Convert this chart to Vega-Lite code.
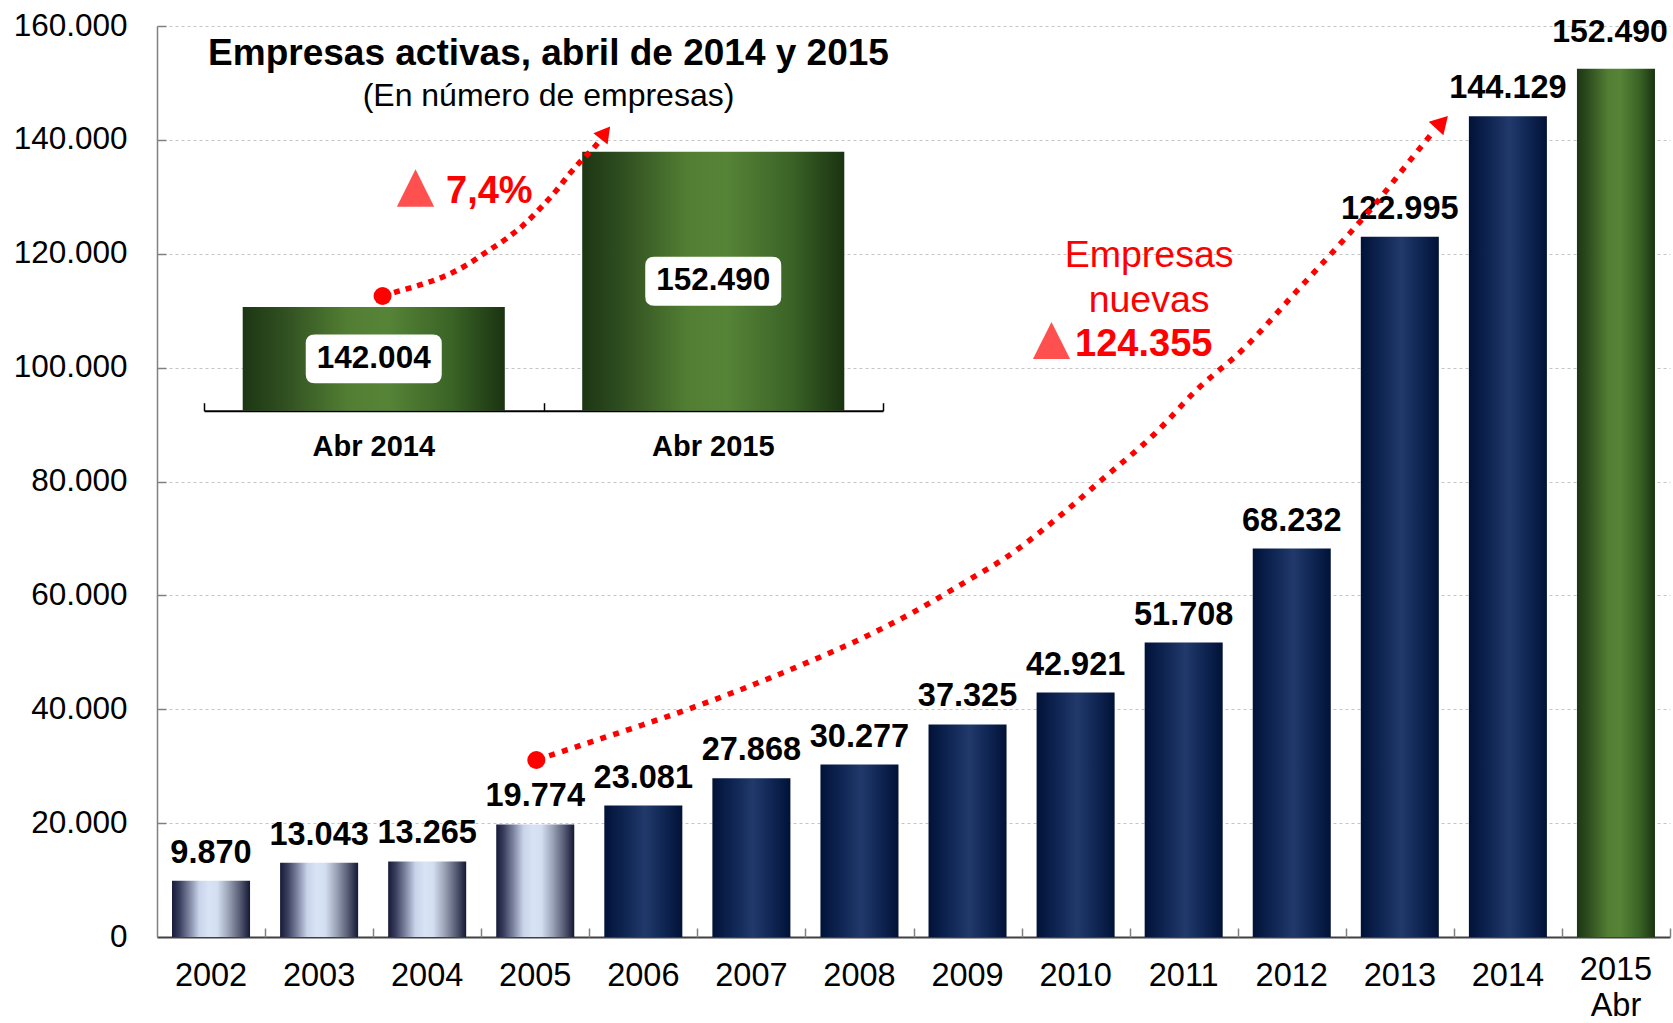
{
  "$schema": "https://vega.github.io/schema/vega-lite/v6.json",
  "width": 1513,
  "height": 911,
  "autosize": "none",
  "padding": {"left": 157, "top": 26, "right": 3, "bottom": 86},
  "background": "white",
  "config": {
    "view": {"stroke": null},
    "font": "Liberation Sans",
    "locale": {"number": {"decimal": ",", "thousands": ".", "grouping": [3], "currency": ["", ""]}},
    "axis": {"labelFont": "Liberation Sans", "labelColor": "#000000"},
    "text": {"font": "Liberation Sans"}
  },
  "datasets": {
    "bars": [
      {"year": "2002", "value": 9870, "group": "light"},
      {"year": "2003", "value": 13043, "group": "light"},
      {"year": "2004", "value": 13265, "group": "light"},
      {"year": "2005", "value": 19774, "group": "light"},
      {"year": "2006", "value": 23081, "group": "navy"},
      {"year": "2007", "value": 27868, "group": "navy"},
      {"year": "2008", "value": 30277, "group": "navy"},
      {"year": "2009", "value": 37325, "group": "navy"},
      {"year": "2010", "value": 42921, "group": "navy"},
      {"year": "2011", "value": 51708, "group": "navy"},
      {"year": "2012", "value": 68232, "group": "navy"},
      {"year": "2013", "value": 122995, "group": "navy"},
      {"year": "2014", "value": 144129, "group": "navy"},
      {"year": "2015", "value": 152490, "group": "green"}
    ],
    "mainCurve": [
      {"t": 2005.01, "value": 31087},
      {"t": 2005.43, "value": 33721},
      {"t": 2005.99, "value": 37234},
      {"t": 2006.48, "value": 40448},
      {"t": 2006.97, "value": 43960},
      {"t": 2007.50, "value": 48070},
      {"t": 2007.99, "value": 52162},
      {"t": 2008.48, "value": 56851},
      {"t": 2009.01, "value": 62700},
      {"t": 2009.32, "value": 66212},
      {"t": 2009.92, "value": 74994},
      {"t": 2010.24, "value": 80263},
      {"t": 2010.74, "value": 88518},
      {"t": 2011.11, "value": 95900},
      {"t": 2011.57, "value": 103600},
      {"t": 2012.03, "value": 113106},
      {"t": 2012.48, "value": 122414},
      {"t": 2012.75, "value": 128210},
      {"t": 2013.12, "value": 136991},
      {"t": 2013.30, "value": 141207}
    ],
    "mainPts": [
      {"t": 2005.01, "value": 31087, "kind": "start"},
      {"t": 2013.39, "value": 143102, "kind": "head"},
      {"t": 2009.777, "value": 104764, "kind": "tri"}
    ],
    "mainText": [
      {"t": 2010.68, "value": 117672, "text": "Empresas", "style": "n"},
      {"t": 2010.68, "value": 109769, "text": "nuevas", "style": "n"},
      {"t": 2009.995, "value": 102041, "text": "124.355", "style": "b"}
    ],
    "inset": [
      {"label": "Abr 2014", "value": 142004},
      {"label": "Abr 2015", "value": 152490}
    ],
    "insetCurve": [
      {"i": 0.026, "value": 142750},
      {"i": 0.068, "value": 143041},
      {"i": 0.136, "value": 143494},
      {"i": 0.205, "value": 144054},
      {"i": 0.274, "value": 144845},
      {"i": 0.333, "value": 145744},
      {"i": 0.392, "value": 146649},
      {"i": 0.441, "value": 147548},
      {"i": 0.495, "value": 148784},
      {"i": 0.539, "value": 149913},
      {"i": 0.578, "value": 151041},
      {"i": 0.613, "value": 151940},
      {"i": 0.647, "value": 152730},
      {"i": 0.661, "value": 153109}
    ],
    "insetPts": [
      {"i": 0.026, "value": 142750, "kind": "start"},
      {"i": 0.682, "value": 153784, "kind": "head"},
      {"i": 0.123, "value": 150048, "kind": "tri"}
    ],
    "insetText": [
      {"i": 0.5147, "value": 158359, "text": "Empresas activas, abril de 2014 y 2015", "style": "title"},
      {"i": 0.5147, "value": 155589, "text": "(En número de empresas)", "style": "sub"},
      {"i": 0.2128, "value": 149034, "text": "7,4%", "style": "pct"}
    ]
  },
  "layer": [
    {
      "data": {"name": "bars"},
      "encoding": {
        "x": {
          "field": "year", "type": "nominal", "sort": null,
          "scale": {"domain": ["2002","2003","2004","2005","2006","2007","2008","2009","2010","2011","2012","2013","2014","2015"], "paddingInner": 0.278, "paddingOuter": 0.139},
          "axis": {
            "orient": "bottom", "title": null, "labelAngle": 0, "labelFontSize": 32.5,
            "ticks": false,
            "domainColor": "#404040", "domainWidth": 2,
            "labelPadding": {"condition": {"test": "datum.value === '2015'", "value": 16}, "value": 22},
            "labelBaseline": "top", "labelLineHeight": 36.5,
            "labelExpr": "datum.value === '2015' ? ['2015', 'Abr'] : datum.label",
            "grid": false
          }
        },
        "y": {
          "field": "value", "type": "quantitative",
          "scale": {"domain": [0, 160000], "nice": false},
          "axis": {
            "orient": "left", "title": null,
            "values": [0, 20000, 40000, 60000, 80000, 100000, 120000, 140000, 160000],
            "format": ",d", "labelFontSize": 31.5,
            "ticks": false,
            "domainColor": "#808080", "domainWidth": 1.5,
            "labelPadding": 30,
            "grid": true, "gridColor": "#c4c4c4", "gridDash": [3, 3], "gridWidth": 1
          }
        }
      },
      "layer": [
        {
          "transform": [{"filter": "datum.group === 'light'"}],
          "mark": {"type": "bar", "fill": {"gradient": "linear", "x1": 0, "y1": 0, "x2": 1, "y2": 0, "stops": [
            {"offset": 0, "color": "#171a37"},
            {"offset": 0.1, "color": "#3b4060"},
            {"offset": 0.22, "color": "#7d849f"},
            {"offset": 0.35, "color": "#c9d4ea"},
            {"offset": 0.47, "color": "#d8e3f5"},
            {"offset": 0.58, "color": "#d3def1"},
            {"offset": 0.72, "color": "#9ca4b8"},
            {"offset": 0.88, "color": "#52576f"},
            {"offset": 1, "color": "#141834"}
          ]}}
        },
        {
          "transform": [{"filter": "datum.group === 'navy'"}],
          "mark": {"type": "bar", "fill": {"gradient": "linear", "x1": 0, "y1": 0, "x2": 1, "y2": 0, "stops": [
            {"offset": 0, "color": "#011238"},
            {"offset": 0.25, "color": "#0e2451"},
            {"offset": 0.52, "color": "#213a6b"},
            {"offset": 0.78, "color": "#0e2451"},
            {"offset": 1, "color": "#011236"}
          ]}}
        },
        {
          "transform": [{"filter": "datum.group === 'green'"}],
          "mark": {"type": "bar", "fill": {"gradient": "linear", "x1": 0, "y1": 0, "x2": 1, "y2": 0, "stops": [
            {"offset": 0, "color": "#1c3613"},
            {"offset": 0.15, "color": "#2f4e20"},
            {"offset": 0.4, "color": "#527e33"},
            {"offset": 0.55, "color": "#568437"},
            {"offset": 0.8, "color": "#3a6326"},
            {"offset": 1, "color": "#1a3311"}
          ]}}
        },
        {
          "transform": [{"filter": "datum.year !== '2015'"}],
          "mark": {"type": "text", "baseline": "alphabetic", "dy": -18, "fontSize": 32.5, "fontWeight": "bold", "color": "#000000"},
          "encoding": {"text": {"field": "value", "type": "quantitative", "format": ",d"}}
        },
        {
          "transform": [{"filter": "datum.year === '2015'"}],
          "mark": {"type": "text", "baseline": "alphabetic", "dy": -27, "dx": -6, "fontSize": 32, "fontWeight": "bold", "color": "#000000"},
          "encoding": {"text": {"field": "value", "type": "quantitative", "format": ",d"}}
        }
      ]
    },
    {
      "data": {"name": "inset"},
      "encoding": {
        "x": {
          "field": "label", "type": "nominal", "sort": null,
          "scale": {"domain": ["Abr 2014", "Abr 2015"], "range": [47, 726], "paddingInner": 0.228, "paddingOuter": 0.114},
          "axis": {
            "orient": "bottom", "offset": -526.3, "title": null, "labelAngle": 0,
            "labelFontSize": 29, "labelFontWeight": "bold",
            "ticks": false,
            "domainColor": "#000000", "domainWidth": 2,
            "labelPadding": 22.2, "labelBaseline": "top", "grid": false
          }
        },
        "y": {
          "field": "value", "type": "quantitative",
          "scale": {"domain": [135000, 155000], "range": [384.7, 88.7], "nice": false, "zero": false},
          "axis": null
        },
        "y2": {"datum": 135000}
      },
      "mark": {"type": "bar", "fill": {"gradient": "linear", "x1": 0, "y1": 0, "x2": 1, "y2": 0, "stops": [
        {"offset": 0, "color": "#1c3613"},
        {"offset": 0.15, "color": "#2f4e20"},
        {"offset": 0.4, "color": "#527e33"},
        {"offset": 0.55, "color": "#568437"},
        {"offset": 0.8, "color": "#3a6326"},
        {"offset": 1, "color": "#1a3311"}
      ]}}
    },
    {
      "data": {"name": "inset"},
      "encoding": {
        "x": {
          "field": "label", "type": "nominal", "sort": null,
          "scale": {"domain": ["Abr 2014", "Abr 2015"], "range": [47, 726], "paddingInner": 0.228, "paddingOuter": 0.114},
          "axis": null
        },
        "y": {
          "field": "value", "type": "quantitative",
          "scale": {"domain": [135000, 155000], "range": [384.7, 236.7], "nice": false, "zero": false},
          "axis": null
        }
      },
      "layer": [
        {
          "mark": {"type": "point", "shape": "M-0.868,-0.36L0.868,-0.36Q1,-0.36,1,-0.228L1,0.228Q1,0.36,0.868,0.36L-0.868,0.36Q-1,0.36,-1,0.228L-1,-0.228Q-1,-0.36,-0.868,-0.36Z", "size": 18496, "filled": true, "fill": "#ffffff", "opacity": 1, "strokeWidth": 0}
        },
        {
          "mark": {"type": "text", "baseline": "middle", "fontSize": 31.5, "fontWeight": "bold", "color": "#000000"},
          "encoding": {"text": {"field": "value", "type": "quantitative", "format": ",d"}}
        }
      ]
    },
    {
      "encoding": {
        "x": {"field": "t", "type": "quantitative", "scale": {"domain": [2001.5, 2015.5], "nice": false, "zero": false},
          "axis": {"orient": "bottom", "offset": -9, "values": [2002.5, 2003.5, 2004.5, 2005.5, 2006.5, 2007.5, 2008.5, 2009.5, 2010.5, 2011.5, 2012.5, 2013.5, 2014.5, 2015.5], "labels": false, "domain": false, "ticks": true, "tickSize": 9, "tickColor": "#808080", "tickWidth": 1.5, "grid": false, "title": null}},
        "y": {"field": "value", "type": "quantitative", "scale": {"domain": [0, 160000], "nice": false},
          "axis": {"orient": "left", "offset": -9, "values": [20000, 40000, 60000, 80000, 100000, 120000, 140000, 160000], "labels": false, "domain": false, "ticks": true, "tickSize": 9, "tickColor": "#808080", "tickWidth": 1.5, "grid": false, "title": null}}
      },
      "layer": [
        {
          "data": {"name": "mainCurve"},
          "mark": {"type": "line", "color": "#ff0000", "strokeWidth": 5.5, "strokeDash": [6, 7.5], "strokeCap": "butt", "interpolate": "monotone"}
        },
        {
          "data": {"name": "mainPts"},
          "transform": [{"filter": "datum.kind === 'start'"}],
          "mark": {"type": "point", "shape": "circle", "size": 324, "filled": true, "color": "#ff0000", "opacity": 1}
        },
        {
          "data": {"name": "mainPts"},
          "transform": [{"filter": "datum.kind === 'head'"}],
          "mark": {"type": "point", "shape": "triangle-up", "size": 400, "angle": 43, "filled": true, "color": "#ff0000", "opacity": 1}
        },
        {
          "data": {"name": "mainPts"},
          "transform": [{"filter": "datum.kind === 'tri'"}],
          "mark": {"type": "point", "shape": "M0,-1L1,1L-1,1Z", "size": 1380, "filled": true, "color": "#ff5050", "opacity": 1}
        },
        {
          "data": {"name": "mainText"},
          "transform": [{"filter": "datum.style === 'n'"}],
          "mark": {"type": "text", "align": "center", "baseline": "alphabetic", "fontSize": 37.5, "color": "#ff0000"},
          "encoding": {"text": {"field": "text"}}
        },
        {
          "data": {"name": "mainText"},
          "transform": [{"filter": "datum.style === 'b'"}],
          "mark": {"type": "text", "align": "left", "baseline": "alphabetic", "fontSize": 38, "fontWeight": "bold", "color": "#ff0000"},
          "encoding": {"text": {"field": "text"}}
        }
      ]
    },
    {
      "encoding": {
        "x": {"field": "i", "type": "quantitative", "scale": {"domain": [-0.5, 1.5], "range": [47, 726], "nice": false, "zero": false},
          "axis": {"orient": "bottom", "offset": -534.3, "values": [-0.5, 0.5, 1.5], "labels": false, "domain": false, "ticks": true, "tickSize": 8, "tickColor": "#000000", "tickWidth": 1.5, "grid": false, "title": null}},
        "y": {"field": "value", "type": "quantitative", "scale": {"domain": [135000, 155000], "range": [384.7, 88.7], "nice": false, "zero": false}, "axis": null}
      },
      "layer": [
        {
          "data": {"name": "insetCurve"},
          "mark": {"type": "line", "color": "#ff0000", "strokeWidth": 5.5, "strokeDash": [6, 6], "strokeCap": "butt", "interpolate": "monotone"}
        },
        {
          "data": {"name": "insetPts"},
          "transform": [{"filter": "datum.kind === 'start'"}],
          "mark": {"type": "point", "shape": "circle", "size": 324, "filled": true, "color": "#ff0000", "opacity": 1}
        },
        {
          "data": {"name": "insetPts"},
          "transform": [{"filter": "datum.kind === 'head'"}],
          "mark": {"type": "point", "shape": "triangle-up", "size": 324, "angle": 38, "filled": true, "color": "#ff0000", "opacity": 1}
        },
        {
          "data": {"name": "insetPts"},
          "transform": [{"filter": "datum.kind === 'tri'"}],
          "mark": {"type": "point", "shape": "M0,-1L1,1L-1,1Z", "size": 1390, "filled": true, "color": "#ff5050", "opacity": 1}
        },
        {
          "data": {"name": "insetText"},
          "transform": [{"filter": "datum.style === 'title'"}],
          "mark": {"type": "text", "align": "center", "baseline": "alphabetic", "fontSize": 37, "fontWeight": "bold", "color": "#000000"},
          "encoding": {"text": {"field": "text"}}
        },
        {
          "data": {"name": "insetText"},
          "transform": [{"filter": "datum.style === 'sub'"}],
          "mark": {"type": "text", "align": "center", "baseline": "alphabetic", "fontSize": 32, "color": "#000000"},
          "encoding": {"text": {"field": "text"}}
        },
        {
          "data": {"name": "insetText"},
          "transform": [{"filter": "datum.style === 'pct'"}],
          "mark": {"type": "text", "align": "left", "baseline": "alphabetic", "fontSize": 38, "fontWeight": "bold", "color": "#ff0000"},
          "encoding": {"text": {"field": "text"}}
        }
      ]
    }
  ],
  "resolve": {
    "scale": {"x": "independent", "y": "independent"},
    "axis": {"x": "independent", "y": "independent"}
  }
}
